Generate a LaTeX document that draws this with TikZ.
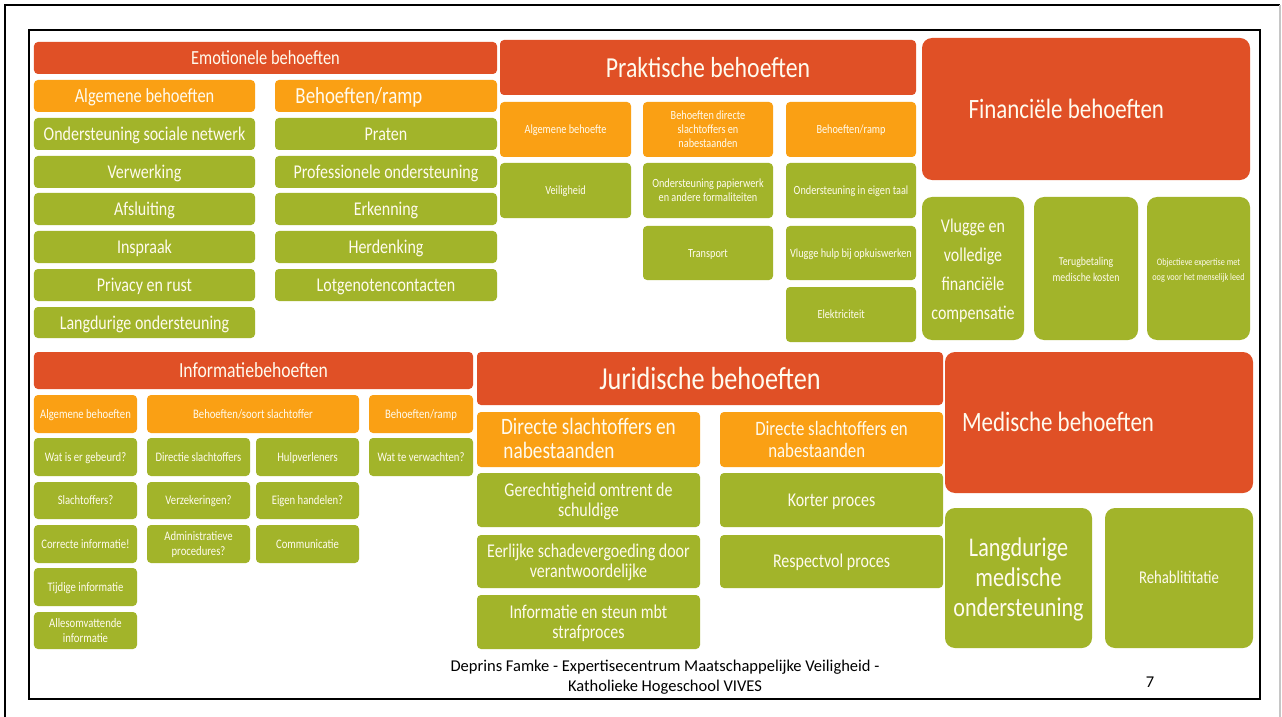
\documentclass[tikz,border=0pt]{standalone}
\usepackage{fontspec}
\setmainfont{Carlito}
\definecolor{hred}{RGB}{224,80,38}
\definecolor{horange}{RGB}{250,160,20}
\definecolor{hgreen}{RGB}{162,180,42}
\definecolor{txt}{RGB}{255,251,238}
\newcommand{\fsz}[2]{\fontsize{#1bp}{#2bp}\selectfont}
\newcommand{\mybox}[7]{%
 \pgfmathsetmacro{\bxw}{#5-#3}%
 \pgfmathsetmacro{\bxh}{#6-#4}%
 \pgfmathsetmacro{\bxcx}{(#3+#5)/2}%
 \pgfmathsetmacro{\bxcy}{(#4+#6)/2}%
 \node[#1, minimum width=\bxw bp, minimum height=\bxh bp] (#2) at (\bxcx,\bxcy)
   {\raisebox{0pt}[\dimexpr\height+0.22em\relax][\depth]{\scalebox{0.82}[1]{\begin{tabular}{@{}c@{}}#7\end{tabular}}}};}
\tikzset{
 base/.style={rounded corners=4bp, inner sep=0pt, text=txt},
 rbox/.style={base, fill=hred},
 obox/.style={base, fill=horange},
 gbox/.style={base, fill=hgreen},
 bigr/.style={base, fill=hred, rounded corners=10bp},
 bigg/.style={base, fill=hgreen, rounded corners=10bp},
}
\begin{document}
\begin{tikzpicture}[x=1bp,y=-1bp]
\useasboundingbox (0,0) rectangle (1282,717);
\fill[white] (0,0) rectangle (1282,717);
% frames
\draw[line width=2.5bp] (5,720) -- (5,5) -- (1280,5);
\draw[gray!45, line width=1.2bp] (1280,5) -- (1280,720);
\draw[line width=1.2bp] (29,30) rectangle (1260,699);

% ---------- Emotionele behoeften
\mybox{rbox,font=\fsz{20}{24}}{eh}{34}{42}{497}{74}{Emotionele behoeften}
\mybox{obox,font=\fsz{20}{24}}{ea}{34}{80}{255}{112}{Algemene behoeften}
\mybox{obox,font=\fsz{23}{26}}{er}{275}{80}{497}{112}{Behoeften/ramp\hspace*{66bp}}
\mybox{gbox,font=\fsz{19.5}{22}}{e1}{34}{118}{255}{150}{Ondersteuning sociale netwerk}
\mybox{gbox,font=\fsz{19.5}{22}}{e2}{34}{156}{255}{188}{Verwerking}
\mybox{gbox,font=\fsz{19.5}{22}}{e3}{34}{193}{255}{225}{Afsluiting}
\mybox{gbox,font=\fsz{19.5}{22}}{e4}{34}{231}{255}{263}{Inspraak}
\mybox{gbox,font=\fsz{19.5}{22}}{e5}{34}{269}{255}{301}{Privacy en rust}
\mybox{gbox,font=\fsz{19.5}{22}}{e6}{34}{307}{255}{338}{Langdurige ondersteuning}
\mybox{gbox,font=\fsz{19.5}{22}}{f1r}{275}{118}{497}{150}{Praten}
\mybox{gbox,font=\fsz{19.5}{22}}{f2r}{275}{156}{497}{188}{Professionele ondersteuning}
\mybox{gbox,font=\fsz{19.5}{22}}{f3r}{275}{193}{497}{225}{Erkenning}
\mybox{gbox,font=\fsz{19.5}{22}}{f4r}{275}{231}{497}{263}{Herdenking}
\mybox{gbox,font=\fsz{19.5}{22}}{f5r}{275}{269}{497}{301}{Lotgenotencontacten}

% ---------- Praktische behoeften
\mybox{rbox,font=\fsz{29}{32}}{ph}{500}{40}{916}{95}{Praktische behoeften}
\mybox{obox,font=\fsz{12.5}{14}}{pa}{500}{102}{631}{157}{Algemene behoefte}
\mybox{obox,font=\fsz{12.5}{14}}{pb}{643}{102}{773}{157}{Behoeften directe\\slachtoffers en\\nabestaanden}
\mybox{obox,font=\fsz{12.5}{14}}{pc}{786}{102}{916}{157}{Behoeften/ramp}
\mybox{gbox,font=\fsz{12.5}{14}}{p1}{500}{163}{631}{218}{Veiligheid}
\mybox{gbox,font=\fsz{12.5}{14}}{p2}{643}{163}{773}{218}{Ondersteuning papierwerk\\en andere formaliteiten}
\mybox{gbox,font=\fsz{12.5}{14}}{p3}{786}{163}{916}{218}{Ondersteuning in eigen taal}
\mybox{gbox,font=\fsz{12.5}{14}}{p4}{643}{226}{773}{280}{Transport}
\mybox{gbox,font=\fsz{12.5}{14}}{p5}{786}{226}{916}{280}{Vlugge hulp bij opkuiswerken}
\mybox{gbox,font=\fsz{12.5}{14}}{p6}{786}{287}{916}{342}{Elektriciteit\hspace*{24bp}}

% ---------- Financiele behoeften
\mybox{bigr,font=\fsz{28}{32}}{fh}{922}{38}{1250}{180}{Financiële behoeften\hspace*{48bp}}
\mybox{bigg,font=\fsz{19.5}{29}}{fa}{922}{197}{1024}{340}{Vlugge en\\volledige\\financiële\\compensatie}
\mybox{bigg,font=\fsz{12}{16}}{fb}{1034}{197}{1138}{340}{Terugbetaling\\medische kosten}
\mybox{bigg,font=\fsz{10}{15}}{fc}{1147}{197}{1250}{340}{Objectieve expertise met\\oog voor het menselijk leed}

% ---------- Informatiebehoeften
\mybox{rbox,font=\fsz{21.5}{24}}{ih}{34}{352}{473}{389}{Informatiebehoeften}
\mybox{obox,font=\fsz{13}{15}}{ia}{34}{395}{137}{433}{Algemene behoeften}
\mybox{obox,font=\fsz{13}{15}}{ib}{147}{395}{359}{433}{Behoeften/soort slachtoffer}
\mybox{obox,font=\fsz{13}{15}}{ic}{369}{395}{473}{433}{Behoeften/ramp}
\mybox{gbox,font=\fsz{13}{15}}{i1}{34}{438}{137}{476}{Wat is er gebeurd?}
\mybox{gbox,font=\fsz{13}{15}}{i2}{34}{482}{137}{519}{Slachtoffers?}
\mybox{gbox,font=\fsz{13}{15}}{i3}{34}{525}{137}{563}{Correcte informatie!}
\mybox{gbox,font=\fsz{13}{15}}{i4}{34}{568}{137}{606}{Tijdige informatie}
\mybox{gbox,font=\fsz{13}{15}}{i5}{34}{612}{137}{649}{Allesomvattende\\informatie}
\mybox{gbox,font=\fsz{13}{15}}{j1}{147}{438}{250}{476}{Directie slachtoffers}
\mybox{gbox,font=\fsz{13}{15}}{j2}{147}{482}{250}{519}{Verzekeringen?}
\mybox{gbox,font=\fsz{13}{15}}{j3}{147}{525}{250}{563}{Administratieve\\procedures?}
\mybox{gbox,font=\fsz{13}{15}}{k1}{256}{438}{359}{476}{Hulpverleners}
\mybox{gbox,font=\fsz{13}{15}}{k2}{256}{482}{359}{519}{Eigen handelen?}
\mybox{gbox,font=\fsz{13}{15}}{k3}{256}{525}{359}{563}{Communicatie}
\mybox{gbox,font=\fsz{13}{15}}{l1}{369}{438}{473}{476}{Wat te verwachten?}

% ---------- Juridische behoeften
\mybox{rbox,font=\fsz{32}{36}}{jh}{477}{352}{943}{405}{Juridische behoeften}
\mybox{obox,font=\fsz{23.5}{24}}{ja}{477}{412}{700}{467}{Directe slachtoffers en\\nabestaanden\hspace*{72bp}}
\mybox{obox,font=\fsz{20.5}{22}}{jb}{720}{412}{943}{467}{Directe slachtoffers en\\nabestaanden\hspace*{36bp}}
\mybox{gbox,font=\fsz{19.5}{20}}{jg1}{477}{473}{700}{527}{Gerechtigheid omtrent de\\schuldige}
\mybox{gbox,font=\fsz{19.5}{20}}{jg2}{477}{535}{700}{588}{Eerlijke schadevergoeding door\\verantwoordelijke}
\mybox{gbox,font=\fsz{19.5}{20}}{jg3}{477}{595}{700}{649}{Informatie en steun mbt\\strafproces}
\mybox{gbox,font=\fsz{19.5}{20}}{jg4}{720}{473}{943}{527}{Korter proces}
\mybox{gbox,font=\fsz{19.5}{20}}{jg5}{720}{535}{943}{588}{Respectvol proces}

% ---------- Medische behoeften
\mybox{bigr,font=\fsz{28}{32}}{mh}{945}{352}{1253}{493}{Medische behoeften\hspace*{100bp}}
\mybox{bigg,font=\fsz{27}{30}}{ma}{945}{508}{1092}{648}{Langdurige\\medische\\ondersteuning}
\mybox{bigg,font=\fsz{18}{20}}{mb}{1105}{508}{1253}{648}{Rehablititatie}

% ---------- footer
\node[font=\fsz{16.5}{20}, align=center, inner sep=0pt] (foot) at (665,677)
 {Deprins Famke - Expertisecentrum Maatschappelijke Veiligheid -\\Katholieke Hogeschool VIVES};
\node[font=\fsz{16.5}{20}, inner sep=0pt] (pnum) at (1150,682) {7};
\end{tikzpicture}
\end{document}
